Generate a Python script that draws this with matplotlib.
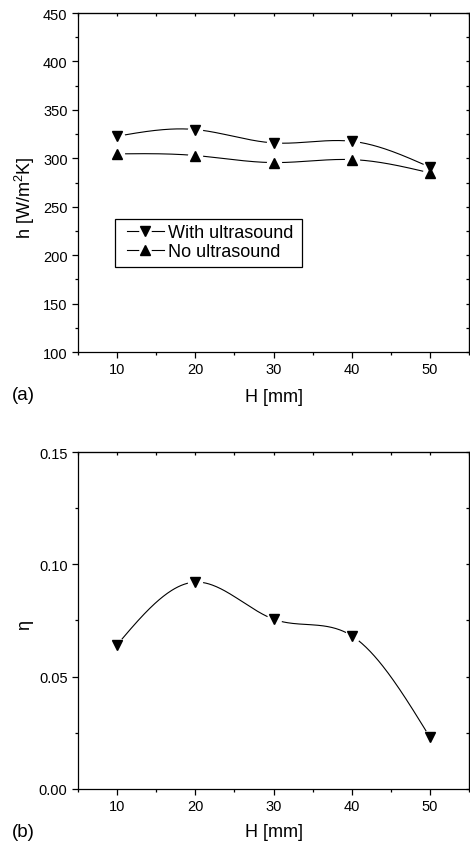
import numpy as np
import matplotlib
matplotlib.use('Agg')
import matplotlib.pyplot as plt
from matplotlib.ticker import MultipleLocator
from matplotlib.lines import Line2D
from matplotlib.patches import Rectangle

plt.rcParams['font.family'] = ['Liberation Sans', 'DejaVu Sans']
plt.rcParams['mathtext.fontset'] = 'custom'
plt.rcParams['mathtext.rm'] = 'Liberation Sans'
plt.rcParams['mathtext.default'] = 'regular'

# data
H = [10, 20, 30, 40, 50]
h_with_us = [322.8, 329.7, 315.9, 317.6, 290.8]
h_no_us = [304.6, 302.9, 295.6, 298.7, 285.0]
eta = [0.0642, 0.0921, 0.0756, 0.0682, 0.0230]


def natural_spline(x, y, n=300):
    # natural cubic spline, like Origin's smooth connect
    x = np.asarray(x, float)
    y = np.asarray(y, float)
    k = len(x)
    h = np.diff(x)
    A = np.zeros((k, k))
    b = np.zeros(k)
    A[0, 0] = 1
    A[-1, -1] = 1
    for i in range(1, k - 1):
        A[i, i - 1] = h[i - 1]
        A[i, i] = 2 * (h[i - 1] + h[i])
        A[i, i + 1] = h[i]
        b[i] = 6 * ((y[i + 1] - y[i]) / h[i] - (y[i] - y[i - 1]) / h[i - 1])
    M = np.linalg.solve(A, b)
    xs = np.linspace(x[0], x[-1], n)
    j = np.clip(np.searchsorted(x, xs) - 1, 0, k - 2)
    t0 = x[j + 1] - xs
    t1 = xs - x[j]
    hj = h[j]
    ys = (M[j] * t0 ** 3 / (6 * hj) + M[j + 1] * t1 ** 3 / (6 * hj)
          + (y[j] / hj - M[j] * hj / 6) * t0 + (y[j + 1] / hj - M[j + 1] * hj / 6) * t1)
    return xs, ys


fig = plt.figure(figsize=(4.7, 8.45), dpi=100)
ax1 = fig.add_axes([0.166, 0.5822, 0.832, 0.4012])
ax2 = fig.add_axes([0.166, 0.0651, 0.832, 0.3988])

gap_ms = 11
tri_ms = 6.5


def style(ax, ymaj, ymin):
    ax.set_xlim(5, 55)
    ax.xaxis.set_major_locator(MultipleLocator(10))
    ax.xaxis.set_minor_locator(MultipleLocator(5))
    ax.yaxis.set_major_locator(MultipleLocator(ymaj))
    ax.yaxis.set_minor_locator(MultipleLocator(ymin))
    ax.tick_params(which='major', direction='out', length=4.5, width=0.9,
                   labelsize=10.5, pad=3)
    ax.tick_params(which='minor', direction='out', length=2.2, width=0.9)
    for s in ax.spines.values():
        s.set_linewidth(0.9)
    # small inward ticks on top and right
    top = ax.secondary_xaxis('top')
    top.xaxis.set_major_locator(MultipleLocator(10))
    top.xaxis.set_minor_locator(MultipleLocator(5))
    top.tick_params(which='both', direction='in', length=2, width=0.9, labeltop=False)
    right = ax.secondary_yaxis('right')
    right.yaxis.set_major_locator(MultipleLocator(ymaj))
    right.yaxis.set_minor_locator(MultipleLocator(ymin))
    right.tick_params(which='both', direction='in', length=2, width=0.9, labelright=False)


def draw_series(ax, x, y):
    xs, ys = natural_spline(x, y)
    ax.plot(xs, ys, color='black', lw=0.8, zorder=2)


# (a)
ax1.set_ylim(100, 450)
style(ax1, 50, 25)
draw_series(ax1, H, h_with_us)
draw_series(ax1, H, h_no_us)
ax1.plot(H, h_with_us, 'o', ms=gap_ms, mfc='white', mec='none', zorder=3)
ax1.plot(H, h_no_us, 'o', ms=gap_ms, mfc='white', mec='none', zorder=3)
ax1.plot(H, h_with_us, 'v', ms=tri_ms, color='black', zorder=4)
ax1.plot(H, h_no_us, '^', ms=tri_ms, color='black', zorder=4)

handles = []
for m in ['v', '^']:
    handles.append((Line2D([], [], color='black', lw=0.8),
                    Line2D([], [], ls='none', marker='o', ms=gap_ms - 2, mfc='white', mec='none'),
                    Line2D([], [], ls='none', marker=m, ms=tri_ms, color='black')))
leg = ax1.legend(handles, ['With ultrasound', 'No ultrasound'],
                 loc='upper left', bbox_to_anchor=(0.115, 0.387),
                 fontsize=13, frameon=False, borderpad=0.2,
                 handlelength=2.05, handletextpad=0.25, labelspacing=0.1,
                 borderaxespad=0)
ax1.add_patch(Rectangle((0.095, 0.251), 0.478, 0.141, transform=ax1.transAxes,
                        fill=False, edgecolor='black', lw=0.9, zorder=5))

# (b)
ax2.set_ylim(0, 0.15)
style(ax2, 0.05, 0.025)
ax2.yaxis.set_major_formatter(plt.FormatStrFormatter('%.2f'))
draw_series(ax2, H, eta)
ax2.plot(H, eta, 'o', ms=gap_ms, mfc='white', mec='none', zorder=3)
ax2.plot(H, eta, 'v', ms=tri_ms, color='black', zorder=4)

# labels
fig.text(274 / 470, 1 - 398 / 845, 'H [mm]', fontsize=13, ha='center', va='center')
fig.text(274 / 470, 1 - 833 / 845, 'H [mm]', fontsize=13, ha='center', va='center')
fig.text(25 / 470, 1 - 198 / 845, 'h [W/m$^2$K]', fontsize=13, ha='center', va='center', rotation=90)
fig.text(25 / 470, 1 - 625 / 845, 'η', fontsize=13, ha='center', va='center', rotation=90)
fig.text(12 / 470, 1 - 396 / 845, '(a)', fontsize=13.5, ha='left', va='center')
fig.text(12 / 470, 1 - 833 / 845, '(b)', fontsize=13.5, ha='left', va='center')

fig.savefig('out.png', dpi=100)
